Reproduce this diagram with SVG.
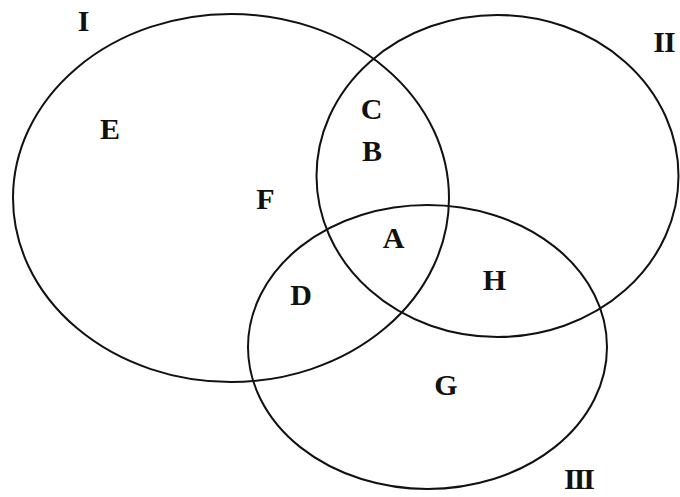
<svg xmlns="http://www.w3.org/2000/svg" width="680" height="497" viewBox="0 0 680 497">
<style>
.set{fill:none;stroke:#111;stroke-width:2}
.lbl{font-family:"Liberation Serif","Times New Roman",serif;font-weight:bold;font-size:30px;fill:#111;text-anchor:middle}
</style>
<rect width="680" height="497" fill="#fff"/>
<g id="set-I"><ellipse class="set" cx="231" cy="198" rx="218" ry="184"/><text class="lbl" x="83.5" y="31">I</text></g>
<g id="set-II"><ellipse class="set" cx="497.5" cy="176" rx="181" ry="161"/><text class="lbl" x="664" y="52" letter-spacing="-1">II</text></g>
<g id="set-III"><ellipse class="set" cx="427.5" cy="347" rx="179.5" ry="142"/><text class="lbl" x="578.5" y="489" letter-spacing="-2">III</text></g>
<g id="regions">
<text class="lbl" x="110" y="139">E</text>
<text class="lbl" x="371.5" y="119">C</text>
<text class="lbl" x="372" y="161">B</text>
<text class="lbl" x="265.5" y="209">F</text>
<text class="lbl" x="393.5" y="248">A</text>
<text class="lbl" x="494.5" y="290">H</text>
<text class="lbl" x="301" y="305">D</text>
<text class="lbl" x="446" y="395">G</text>
</g>
</svg>
